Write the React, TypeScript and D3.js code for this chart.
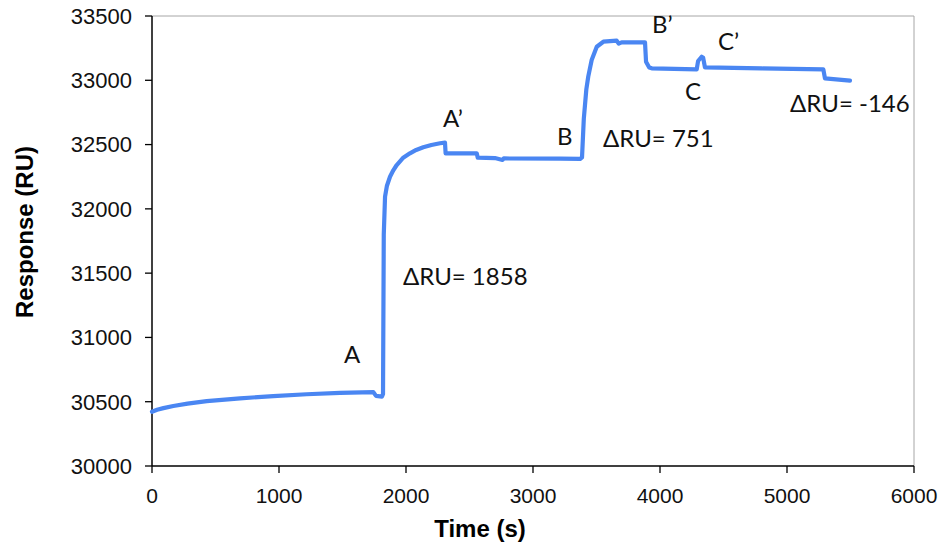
import * as d3 from "d3";

// sensorgram
const timeS = [
  0, 40, 90, 168, 280, 431, 693, 955, 1218, 1480, 1743, 1764, 1811, 1819, 1825,
  1835, 1850, 1874, 1900, 1927, 1975, 2031, 2080, 2136, 2200, 2268, 2307, 2312,
  2557, 2565, 2700, 2760, 2770, 3213, 3370, 3386, 3400, 3420, 3435, 3462, 3502,
  3554, 3659, 3675, 3698, 3882, 3890, 3915, 3935, 4289, 4300, 4328, 4340, 4354,
  4800, 5286, 5299, 5496,
];
const responseRU = [
  30422, 30437, 30450, 30467, 30485, 30505, 30526, 30544, 30558, 30568, 30575,
  30545, 30540, 30560, 31800, 32095, 32180, 32250, 32300, 32341, 32395, 32432,
  32458, 32479, 32497, 32510, 32515, 32432, 32432, 32398, 32395, 32380, 32392,
  32390, 32388, 32400, 32700, 32930, 33028, 33158, 33261, 33300, 33308, 33285,
  33295, 33295, 33145, 33100, 33093, 33085, 33150, 33183, 33175, 33100, 33092,
  33085, 33015, 32997,
];

const xTicks = [0, 1000, 2000, 3000, 4000, 5000, 6000];
const yTicks = [30000, 30500, 31000, 31500, 32000, 32500, 33000, 33500];

const noteText = ["A", "A’", "ΔRU= 1858", "B", "ΔRU= 751", "B’", "C’", "C", "ΔRU= -146"];
const noteTime = [1512, 2291, 1976, 3189, 3551, 3937, 4457, 4197, 5024];
const noteRU = [30801, 32637, 31408, 32497, 32481, 33368, 33236, 32847, 32753];

export default function App() {
  const width = 941;
  const height = 542;
  const left = 152;
  const right = 914;
  const top = 16;
  const bottom = 466;

  const x = d3.scaleLinear().domain([0, 6000]).range([left, right]);
  const y = d3.scaleLinear().domain([30000, 33500]).range([bottom, top]);

  const pts: [number, number][] = timeS.map((t, i) => [t, responseRU[i]]);
  const line = d3
    .line<[number, number]>()
    .x((d) => x(d[0]))
    .y((d) => y(d[1]));

  const tickFont = "'Liberation Sans', Arial, sans-serif";

  return (
    <svg
      width={width}
      height={height}
      style={{ position: "fixed", left: 0, top: 0, background: "#fff" }}
    >
      <rect x={0} y={0} width={width} height={height} fill="#fff" />
      {/* plot area frame */}
      <path
        d={`M${left},${top}H${right}V${bottom}`}
        fill="none"
        stroke="#a6a6a6"
        strokeWidth={1}
      />
      {/* axes */}
      <line x1={left} x2={left} y1={top} y2={bottom} stroke="#000" strokeWidth={1.5} />
      <line x1={left} x2={right} y1={bottom} y2={bottom} stroke="#000" strokeWidth={1.5} />
      {yTicks.map((v) => (
        <g key={"y" + v}>
          <line x1={left - 7} x2={left} y1={y(v)} y2={y(v)} stroke="#000" strokeWidth={1.3} />
          <text
            x={132}
            y={y(v)}
            dy="0.36em"
            textAnchor="end"
            fontFamily={tickFont}
            fontSize={22}
            fill="#111"
          >
            {v}
          </text>
        </g>
      ))}
      {xTicks.map((v) => (
        <g key={"x" + v}>
          <line x1={x(v)} x2={x(v)} y1={bottom} y2={bottom + 7} stroke="#000" strokeWidth={1.3} />
          <text
            x={x(v)}
            y={503}
            textAnchor="middle"
            fontFamily={tickFont}
            fontSize={21}
            fill="#111"
          >
            {v}
          </text>
        </g>
      ))}
      <text
        x={480}
        y={537}
        textAnchor="middle"
        fontFamily={tickFont}
        fontWeight="bold"
        fontSize={24}
      >
        Time (s)
      </text>
      <text
        transform={`translate(33,232) rotate(-90)`}
        textAnchor="middle"
        fontFamily={tickFont}
        fontWeight="bold"
        fontSize={24}
      >
        Response (RU)
      </text>

      <path
        d={line(pts) || ""}
        fill="none"
        stroke="#4a86f2"
        strokeWidth={4.2}
        strokeLinejoin="round"
        strokeLinecap="round"
      />

      {noteText.map((s, i) => (
        <text
          key={s}
          x={x(noteTime[i])}
          y={y(noteRU[i])}
          fontFamily="Lato, 'Open Sans', sans-serif"
          fontSize={24}
          fill="#111"
        >
          {s}
        </text>
      ))}
    </svg>
  );
}
